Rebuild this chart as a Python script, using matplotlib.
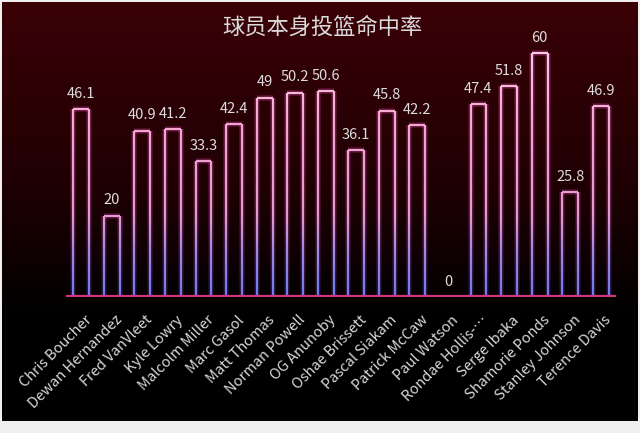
import numpy as np
import matplotlib
matplotlib.use("Agg")
import matplotlib.pyplot as plt
import matplotlib.transforms as mtransforms
from matplotlib.collections import LineCollection
from matplotlib.colors import LinearSegmentedColormap

plt.rcParams['font.family'] = ['Noto Sans CJK SC', 'DejaVu Sans']

players = ["Chris Boucher", "Dewan Hernandez", "Fred VanVleet", "Kyle Lowry",
           "Malcolm Miller", "Marc Gasol", "Matt Thomas", "Norman Powell",
           "OG Anunoby", "Oshae Brissett", "Pascal Siakam", "Patrick McCaw",
           "Paul Watson", "Rondae Hollis-…", "Serge Ibaka", "Shamorie Ponds",
           "Stanley Johnson", "Terence Davis"]
pct = [46.1, 20, 40.9, 41.2, 33.3, 42.4, 49, 50.2, 50.6, 36.1, 45.8, 42.2,
       0, 47.4, 51.8, 60, 25.8, 46.9]
title = "球员本身投篮命中率"

W, H = 640, 433
fig = plt.figure(figsize=(W / 100, H / 100), dpi=100, facecolor="#f0f0f0")

# dark red -> black background panel
bg = fig.add_axes([2 / W, 12 / H, 636 / W, 419 / H])
bg.set_axis_off()
bgcmap = LinearSegmentedColormap.from_list(
    "bg", [(0, "#3a0006"), (0.45, "#1e0003"), (0.75, "#000000"), (1, "#000000")])
bg.imshow(np.linspace(0, 1, 256).reshape(-1, 1), aspect="auto", cmap=bgcmap,
          extent=[0, 1, 0, 1])

ax = fig.add_axes([66 / W, 136 / H, 550 / W, 264.5 / H])
ax.set_facecolor("none")
ax.set_xlim(-0.5, len(players) - 0.5)
ax.set_ylim(0, 65)
for s in ax.spines.values():
    s.set_visible(False)
ax.set_yticks([])

x = np.arange(len(players))
bars = ax.bar(x, pct, width=0.52, color="none", edgecolor="none", zorder=2)

edge_cmap = LinearSegmentedColormap.from_list(
    "edge", [(0, "#6a7ae8"), (0.18, "#9a8ae0"), (0.33, "#e09ad0"),
             (0.7, "#f2a6d2"), (1, "#fac8e2")])

for b in bars:
    h = b.get_height()
    if h <= 0:
        continue
    x0, x1 = b.get_x(), b.get_x() + b.get_width()
    ys = np.linspace(0, h, 60)
    segs, cols = [], []
    for xx in (x0, x1):
        for y0, y1 in zip(ys[:-1], ys[1:]):
            segs.append([(xx, y0), (xx, y1)])
            cols.append(edge_cmap((y0 + y1) / 2 / 60))
    segs.append([(x0, h), (x1, h)])
    cols.append(edge_cmap(h / 60))
    glow = LineCollection(segs, linewidths=4, alpha=0.3,
                          capstyle="butt", zorder=3)
    glow.set_color([(c[0] * 0.85, c[1] * 0.3, c[2] * 0.7, 1) for c in cols])
    ax.add_collection(glow)
    ax.add_collection(LineCollection(segs, colors=cols, linewidths=1.6,
                                     capstyle="butt", zorder=4))
    ax.annotate(f"{h:g}", (b.get_x() + b.get_width() / 2, h),
                xytext=(0, 6), textcoords="offset points", ha="center",
                va="bottom", color="#dcdcdc", fontsize=10.5)

ax.annotate("0", (12, 0), xytext=(0, 6), textcoords="offset points",
            ha="center", va="bottom", color="#dcdcdc", fontsize=10.5)

ax.axhline(0, color="#5a5ae0", lw=1.2, zorder=5)
ax.axhline(0.25, color="#d2357f", lw=1.6, zorder=5)

ax.set_xticks(x)
ax.set_xticklabels(players, rotation=45, ha="right", va="center",
                   rotation_mode="anchor", color="#d8d8d8", fontsize=10.5)
ax.tick_params(axis="x", length=0, pad=15)
shift = mtransforms.ScaledTranslation(8 / 100, 0, fig.dpi_scale_trans)
for lab in ax.get_xticklabels():
    lab.set_transform(lab.get_transform() + shift)

fig.text(322 / W, 1 - 27 / H, title, ha="center", va="center",
         color="#d9d9d9", fontsize=16)

fig.savefig("out.png", dpi=100, facecolor=fig.get_facecolor())
